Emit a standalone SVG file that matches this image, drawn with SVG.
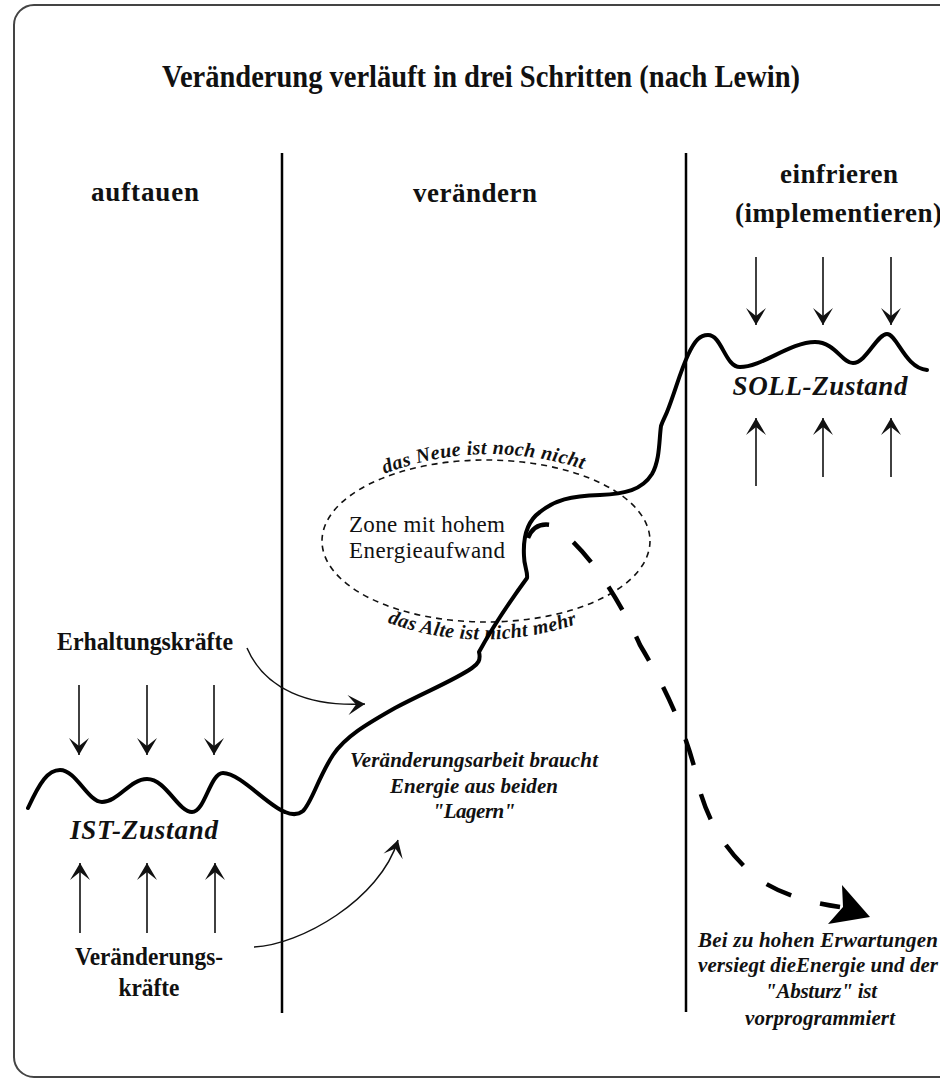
<svg xmlns="http://www.w3.org/2000/svg" width="940" height="1079" viewBox="0 0 940 1079">
<style>
text{font-family:"Liberation Serif","Times New Roman",serif;fill:#111}
.b{font-weight:bold}
.bi{font-weight:bold;font-style:italic}
.force{stroke:#111;stroke-width:1.6;fill:none}
.curve{stroke:#000;stroke-width:4;fill:none;stroke-linecap:round;stroke-linejoin:round}
.div{stroke:#000;stroke-width:2.5}
.conn{stroke:#111;stroke-width:1.5;fill:none}
.zone{stroke:#111;stroke-width:1.6;fill:none;stroke-dasharray:6 5}
.crash{stroke:#000;stroke-width:4.5;fill:none;stroke-dasharray:27 30}
</style>
<defs>
<marker id="ah" markerUnits="userSpaceOnUse" markerWidth="19" markerHeight="22" viewBox="-18 -11 19 22" refX="0" refY="0" orient="auto">
<path d="M0 0 L-17 -10 L-9 0 L-17 10 Z" fill="#111"/>
</marker>
</defs>
<rect id="frame" x="14" y="5" width="980" height="1072" rx="20" fill="none" stroke="#444" stroke-width="2"/>
<g id="title"><text class="b" x="481" y="87" font-size="32" text-anchor="middle" textLength="638" lengthAdjust="spacingAndGlyphs">Veränderung verläuft in drei Schritten (nach Lewin)</text></g>
<g id="dividers">
<line class="div" x1="282" y1="153" x2="282" y2="1013"/>
<line class="div" x1="686" y1="153" x2="686" y2="1012"/>
</g>
<g id="phase-auftauen"><text class="b" x="145" y="201" font-size="27" text-anchor="middle" textLength="108">auftauen</text></g>
<g id="phase-veraendern"><text class="b" x="475" y="202" font-size="27" text-anchor="middle" textLength="124">verändern</text></g>
<g id="phase-einfrieren">
<text class="b" x="839" y="183" font-size="27" text-anchor="middle" textLength="118">einfrieren</text>
<text class="b" x="735" y="222" font-size="27" textLength="207">(implementieren)</text>
</g>
<g id="ist-zustand">
<line class="force" x1="79" y1="685" x2="79" y2="755" marker-end="url(#ah)"/>
<line class="force" x1="147" y1="685" x2="147" y2="755" marker-end="url(#ah)"/>
<line class="force" x1="214" y1="685" x2="214" y2="755" marker-end="url(#ah)"/>
<text class="bi" x="144" y="839" font-size="27" text-anchor="middle" textLength="148">IST-Zustand</text>
<line class="force" x1="80" y1="933" x2="80" y2="863" marker-end="url(#ah)"/>
<line class="force" x1="147" y1="933" x2="147" y2="863" marker-end="url(#ah)"/>
<line class="force" x1="215" y1="933" x2="215" y2="863" marker-end="url(#ah)"/>
</g>
<g id="erhaltungskraefte"><text class="b" x="145" y="650" font-size="25" text-anchor="middle" textLength="176" lengthAdjust="spacingAndGlyphs">Erhaltungskräfte</text></g>
<g id="veraenderungskraefte">
<text class="b" x="149" y="965" font-size="25" text-anchor="middle" textLength="148" lengthAdjust="spacingAndGlyphs">Veränderungs-</text>
<text class="b" x="149" y="996" font-size="25" text-anchor="middle" textLength="61" lengthAdjust="spacingAndGlyphs">kräfte</text>
</g>
<g id="soll-zustand">
<line class="force" x1="756" y1="257" x2="756" y2="325" marker-end="url(#ah)"/>
<line class="force" x1="823" y1="257" x2="823" y2="325" marker-end="url(#ah)"/>
<line class="force" x1="891" y1="257" x2="891" y2="325" marker-end="url(#ah)"/>
<text class="bi" x="820" y="395" font-size="27" text-anchor="middle" textLength="175">SOLL-Zustand</text>
<line class="force" x1="756" y1="486" x2="756" y2="418" marker-end="url(#ah)"/>
<line class="force" x1="823" y1="477" x2="823" y2="418" marker-end="url(#ah)"/>
<line class="force" x1="891" y1="477" x2="891" y2="418" marker-end="url(#ah)"/>
</g>
<g id="zone">
<ellipse class="zone" cx="486" cy="541" rx="164" ry="81"/>
<path id="arcTop" d="M 374 478 Q 482 433 594 473" fill="none"/>
<path id="arcBot" d="M 376 618 Q 478 660 589 620" fill="none"/>
<text class="bi" font-size="20" letter-spacing="0.4"><textPath href="#arcTop" startOffset="50%" text-anchor="middle">das Neue ist noch nicht</textPath></text>
<text class="bi" font-size="20" letter-spacing="0.4"><textPath href="#arcBot" startOffset="50%" text-anchor="middle">das Alte ist nicht mehr</textPath></text>
<text x="349" y="532" font-size="23" textLength="156">Zone mit hohem</text>
<text x="349" y="558" font-size="23" textLength="156">Energieaufwand</text>
</g>
<g id="energie-text">
<text class="bi" x="474" y="767" font-size="21" text-anchor="middle" textLength="248">Veränderungsarbeit braucht</text>
<text class="bi" x="474" y="793" font-size="21" text-anchor="middle" textLength="168">Energie aus beiden</text>
<text class="bi" x="474" y="818" font-size="21" text-anchor="middle" textLength="83">"Lagern"</text>
</g>
<g id="absturz-text">
<text class="bi" x="818" y="947" font-size="21" text-anchor="middle" textLength="240">Bei zu hohen Erwartungen</text>
<text class="bi" x="818" y="972" font-size="21" text-anchor="middle" textLength="240">versiegt dieEnergie und der</text>
<text class="bi" x="821" y="998" font-size="21" text-anchor="middle" textLength="112">"Absturz" ist</text>
<text class="bi" x="820" y="1025" font-size="21" text-anchor="middle" textLength="150">vorprogrammiert</text>
</g>
<g id="connectors">
<path id="change-curve" class="curve" d="M 28 808 C 40 782, 48 770, 60 770 C 76 770, 88 802, 102 802 C 118 802, 130 779, 147 779 C 166 779, 178 812, 192 812 C 205 812, 210 773, 223 773 C 240 773, 268 806, 285 812 C 292 815, 298 815, 303 811 C 312 802, 318 778, 333 755 C 345 737, 365 725, 395 708 C 425 692, 455 680, 472 668 C 478 664, 481 660, 479 652 C 490 632, 508 604, 527 578 C 528 572, 524 566, 524 556 C 523 538, 526 522, 540 512 C 555 500, 570 496, 600 495 C 625 494, 642 490, 652 474 C 660 460, 659 440, 661 426 C 663 420, 665 417, 667 412 C 675 392, 680 372, 688 355 C 695 340, 700 335, 708 335 C 722 335, 725 367, 740 367 C 762 367, 790 342, 815 342 C 835 342, 842 363, 853 363 C 866 363, 877 334, 887 334 C 897 334, 905 368, 927 370"/>
<path id="crash-path" class="crash" d="M 528 538 C 532 528, 540 523, 551 525 C 580 540, 615 590, 640 645 Q 680 712 695 770 Q 708 840 760 880 Q 790 900 840 907"/>
<polygon points="870,917 842,885 843,907 828,924" fill="#000"/>
<path class="conn" d="M 247 648 C 265 690, 310 707, 365 704" marker-end="url(#ah)"/>
<path class="conn" d="M 254 947 C 300 945, 380 900, 398 840" marker-end="url(#ah)"/>
</g>
</svg>
